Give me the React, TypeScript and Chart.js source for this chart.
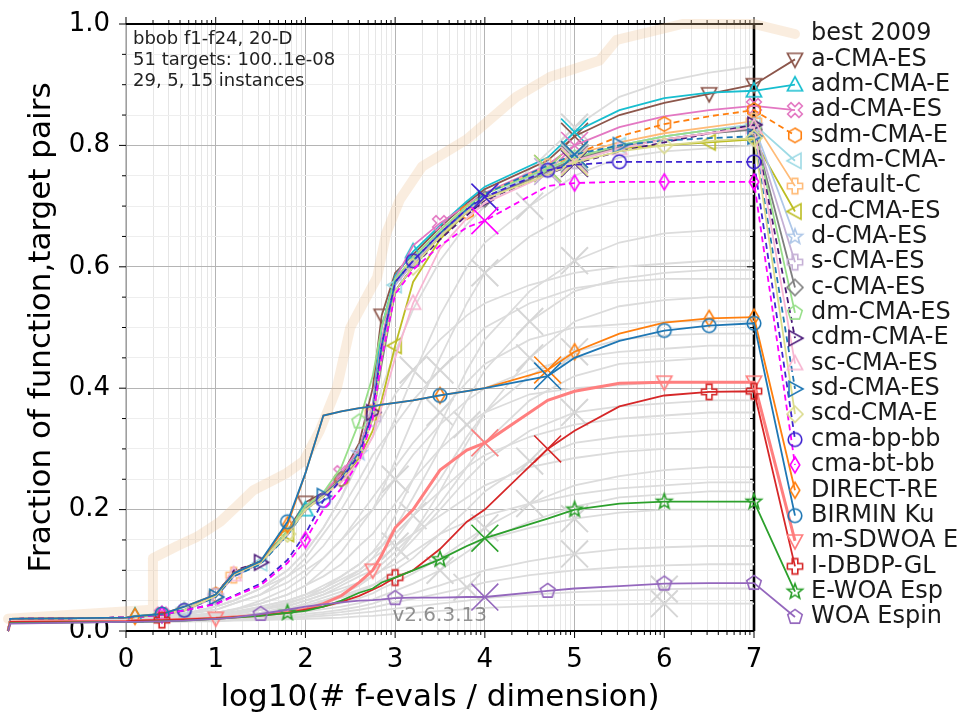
import React, { useEffect, useRef } from 'react';
import { Chart, registerables } from 'chart.js';

Chart.register(...registerables);

// ---- x grids (log10 of f-evals / dimension) ----
const X = [-1.315, -1.29, 0, 0.1, 0.4, 0.65, 1.0, 1.2, 1.5, 1.8, 2.0, 2.2, 2.4, 2.6, 2.75, 2.85, 3.0, 3.2, 3.5, 3.8, 4.0, 4.7, 5.0, 5.5, 6.0, 6.5, 7.0];
const GX = [-1.315, -1.29, 0, 0.4, 0.7, 1.0, 1.2, 1.5, 1.8, 2.0, 2.2, 2.4, 2.6, 2.75, 2.85, 3.0, 3.2, 3.5, 3.8, 4.0, 4.5, 5.0, 5.5, 6.0, 6.5, 7.0];

// ---- best 2009 ----
const BEST_X = [-1.315, 0.29, 0.3, 0.57, 0.79, 1.05, 1.23, 1.42, 1.79, 1.98, 2.16, 2.35, 2.5, 2.8, 2.9, 3.05, 3.3, 3.8, 4.35, 4.73, 5.28, 5.47, 6.2, 7.0];
const BEST_Y = [0.02, 0.035, 0.12, 0.14, 0.155, 0.18, 0.205, 0.232, 0.26, 0.28, 0.33, 0.4, 0.5, 0.583, 0.655, 0.71, 0.765, 0.81, 0.88, 0.913, 0.94, 0.974, 1.0, 1.0];

// ---- algorithms (values on X) ----
const aCMA = [0, 0.02, 0.022, 0.023, 0.027, 0.034, 0.06, 0.097, 0.115, 0.165, 0.212, 0.228, 0.255, 0.31, 0.4, 0.52, 0.59, 0.62, 0.665, 0.705, 0.728, 0.775, 0.815, 0.85, 0.87, 0.885, 0.9];
const admCMA = [0, 0.02, 0.022, 0.025, 0.028, 0.035, 0.058, 0.09, 0.112, 0.16, 0.2, 0.224, 0.25, 0.3, 0.37, 0.5, 0.585, 0.625, 0.668, 0.708, 0.732, 0.78, 0.822, 0.858, 0.878, 0.887, 0.89];
const adCMA = [0, 0.02, 0.022, 0.023, 0.027, 0.033, 0.056, 0.09, 0.112, 0.16, 0.205, 0.226, 0.26, 0.3, 0.37, 0.48, 0.58, 0.635, 0.672, 0.702, 0.722, 0.768, 0.8, 0.83, 0.848, 0.858, 0.865];
const sdmCMA = [0, 0.02, 0.022, 0.023, 0.027, 0.034, 0.06, 0.095, 0.113, 0.16, 0.205, 0.226, 0.25, 0.295, 0.36, 0.47, 0.575, 0.61, 0.655, 0.69, 0.712, 0.762, 0.785, 0.815, 0.835, 0.848, 0.858];
const scdmCMA = [0, 0.02, 0.022, 0.023, 0.027, 0.034, 0.058, 0.092, 0.112, 0.158, 0.2, 0.222, 0.25, 0.29, 0.355, 0.46, 0.57, 0.61, 0.655, 0.695, 0.715, 0.76, 0.78, 0.8, 0.815, 0.825, 0.835];
const defaultC = [0, 0.02, 0.022, 0.023, 0.027, 0.034, 0.058, 0.092, 0.113, 0.16, 0.205, 0.226, 0.25, 0.295, 0.36, 0.47, 0.575, 0.61, 0.655, 0.7, 0.72, 0.765, 0.785, 0.805, 0.82, 0.83, 0.84];
const cdCMA = [0, 0.02, 0.022, 0.023, 0.027, 0.034, 0.058, 0.092, 0.112, 0.16, 0.2, 0.222, 0.248, 0.285, 0.33, 0.38, 0.47, 0.575, 0.645, 0.69, 0.712, 0.757, 0.78, 0.795, 0.8, 0.805, 0.81];
const dCMA = [0, 0.02, 0.022, 0.023, 0.027, 0.034, 0.058, 0.093, 0.113, 0.16, 0.203, 0.225, 0.25, 0.293, 0.36, 0.47, 0.575, 0.61, 0.655, 0.695, 0.715, 0.76, 0.78, 0.8, 0.815, 0.825, 0.832];
const sCMA = [0, 0.02, 0.022, 0.023, 0.027, 0.034, 0.057, 0.09, 0.112, 0.158, 0.2, 0.222, 0.248, 0.29, 0.35, 0.46, 0.57, 0.605, 0.65, 0.69, 0.712, 0.757, 0.775, 0.795, 0.81, 0.82, 0.828];
const cCMA = [0, 0.02, 0.022, 0.023, 0.027, 0.034, 0.058, 0.093, 0.113, 0.16, 0.203, 0.225, 0.25, 0.293, 0.35, 0.44, 0.56, 0.6, 0.65, 0.69, 0.712, 0.757, 0.777, 0.797, 0.81, 0.82, 0.826];
const dmCMA = [0, 0.02, 0.022, 0.023, 0.027, 0.034, 0.058, 0.093, 0.113, 0.165, 0.205, 0.228, 0.27, 0.345, 0.42, 0.5, 0.58, 0.615, 0.66, 0.7, 0.72, 0.762, 0.78, 0.8, 0.815, 0.825, 0.83];
const cdmCMA = [0, 0.02, 0.022, 0.023, 0.027, 0.034, 0.058, 0.1, 0.113, 0.16, 0.2, 0.222, 0.248, 0.29, 0.36, 0.45, 0.56, 0.6, 0.645, 0.685, 0.71, 0.752, 0.77, 0.79, 0.805, 0.82, 0.834];
const scCMA = [0, 0.02, 0.022, 0.023, 0.027, 0.034, 0.058, 0.093, 0.113, 0.16, 0.2, 0.222, 0.245, 0.28, 0.32, 0.37, 0.45, 0.54, 0.63, 0.68, 0.705, 0.752, 0.775, 0.795, 0.81, 0.82, 0.83];
const sdCMA = [0, 0.02, 0.022, 0.023, 0.027, 0.034, 0.056, 0.09, 0.11, 0.158, 0.2, 0.222, 0.25, 0.295, 0.36, 0.47, 0.575, 0.61, 0.655, 0.695, 0.72, 0.767, 0.785, 0.8, 0.808, 0.812, 0.815];
const scdCMA = [0, 0.02, 0.022, 0.023, 0.027, 0.034, 0.058, 0.093, 0.113, 0.16, 0.2, 0.222, 0.248, 0.29, 0.35, 0.45, 0.56, 0.6, 0.65, 0.69, 0.712, 0.752, 0.772, 0.79, 0.8, 0.807, 0.812];
const cmaBp = [0, 0.02, 0.022, 0.023, 0.027, 0.034, 0.045, 0.058, 0.078, 0.117, 0.16, 0.215, 0.25, 0.29, 0.36, 0.47, 0.575, 0.61, 0.655, 0.695, 0.715, 0.759, 0.768, 0.773, 0.773, 0.773, 0.773];
const cmaBt = [0, 0.02, 0.022, 0.023, 0.027, 0.034, 0.044, 0.057, 0.075, 0.112, 0.15, 0.2, 0.235, 0.28, 0.35, 0.45, 0.555, 0.595, 0.635, 0.665, 0.676, 0.733, 0.738, 0.74, 0.74, 0.74, 0.74];
const directRe = [0, 0.02, 0.022, 0.024, 0.028, 0.04, 0.06, 0.095, 0.115, 0.175, 0.26, 0.355, 0.362, 0.367, 0.37, 0.373, 0.376, 0.38, 0.388, 0.395, 0.4, 0.43, 0.46, 0.49, 0.508, 0.515, 0.517];
const birmin = [0, 0.02, 0.022, 0.024, 0.028, 0.04, 0.06, 0.095, 0.115, 0.18, 0.26, 0.355, 0.362, 0.367, 0.37, 0.373, 0.376, 0.38, 0.388, 0.395, 0.4, 0.42, 0.45, 0.478, 0.495, 0.503, 0.507];
const mSdwoa = [0, 0.015, 0.016, 0.017, 0.018, 0.019, 0.021, 0.023, 0.026, 0.031, 0.036, 0.045, 0.058, 0.08, 0.1, 0.125, 0.17, 0.2, 0.265, 0.298, 0.31, 0.38, 0.395, 0.408, 0.41, 0.41, 0.41];
const iDbdp = [0, 0.015, 0.016, 0.017, 0.018, 0.019, 0.021, 0.023, 0.026, 0.03, 0.035, 0.04, 0.048, 0.058, 0.068, 0.075, 0.088, 0.1, 0.135, 0.18, 0.2, 0.3, 0.33, 0.37, 0.388, 0.394, 0.395];
const eWoa = [0, 0.013, 0.015, 0.015, 0.016, 0.017, 0.02, 0.022, 0.025, 0.03, 0.033, 0.04, 0.05, 0.063, 0.07, 0.08, 0.088, 0.1, 0.118, 0.14, 0.153, 0.185, 0.2, 0.21, 0.213, 0.213, 0.213];
const woa = [0, 0.012, 0.015, 0.015, 0.016, 0.017, 0.02, 0.022, 0.028, 0.035, 0.04, 0.044, 0.047, 0.05, 0.051, 0.052, 0.054, 0.055, 0.055, 0.056, 0.056, 0.066, 0.07, 0.074, 0.078, 0.079, 0.079];

// ---- background (other algorithms, grey), values on GX ----
const G01 = [0, 0.02, 0.022, 0.025, 0.03, 0.04, 0.05, 0.07, 0.1, 0.13, 0.17, 0.22, 0.29, 0.35, 0.4, 0.46, 0.53, 0.61, 0.67, 0.7, 0.76, 0.83, 0.88, 0.905, 0.92, 0.93];
const G02 = [0, 0.02, 0.022, 0.025, 0.03, 0.04, 0.05, 0.07, 0.09, 0.11, 0.14, 0.18, 0.23, 0.27, 0.3, 0.35, 0.42, 0.52, 0.6, 0.64, 0.7, 0.75, 0.78, 0.79, 0.795, 0.8];
const G03 = [0, 0.02, 0.02, 0.022, 0.025, 0.03, 0.035, 0.045, 0.06, 0.075, 0.1, 0.13, 0.17, 0.2, 0.23, 0.28, 0.35, 0.45, 0.54, 0.59, 0.65, 0.69, 0.71, 0.715, 0.72, 0.72];
const G04 = [0, 0.015, 0.018, 0.02, 0.022, 0.025, 0.03, 0.04, 0.05, 0.06, 0.07, 0.09, 0.11, 0.13, 0.15, 0.19, 0.25, 0.34, 0.43, 0.48, 0.56, 0.61, 0.64, 0.655, 0.66, 0.66];
const G05 = [0, 0.02, 0.022, 0.025, 0.03, 0.04, 0.05, 0.07, 0.1, 0.13, 0.17, 0.22, 0.28, 0.32, 0.35, 0.39, 0.43, 0.48, 0.52, 0.54, 0.57, 0.59, 0.6, 0.605, 0.61, 0.61];
const G06 = [0, 0.015, 0.018, 0.02, 0.022, 0.025, 0.028, 0.035, 0.045, 0.055, 0.065, 0.08, 0.1, 0.12, 0.14, 0.17, 0.22, 0.3, 0.38, 0.43, 0.51, 0.56, 0.58, 0.59, 0.595, 0.595];
const G07 = [0, 0.02, 0.022, 0.025, 0.03, 0.035, 0.045, 0.06, 0.09, 0.12, 0.16, 0.2, 0.25, 0.29, 0.31, 0.34, 0.38, 0.43, 0.47, 0.5, 0.54, 0.565, 0.575, 0.58, 0.58, 0.58];
const G08 = [0, 0.015, 0.016, 0.018, 0.02, 0.022, 0.025, 0.03, 0.035, 0.04, 0.05, 0.06, 0.075, 0.09, 0.1, 0.12, 0.16, 0.23, 0.31, 0.36, 0.45, 0.51, 0.535, 0.545, 0.55, 0.55];
const G09 = [0, 0.02, 0.02, 0.022, 0.025, 0.03, 0.035, 0.05, 0.07, 0.09, 0.12, 0.15, 0.19, 0.22, 0.24, 0.27, 0.31, 0.36, 0.41, 0.44, 0.48, 0.5, 0.505, 0.51, 0.51, 0.51];
const G10 = [0, 0.015, 0.016, 0.018, 0.02, 0.024, 0.028, 0.035, 0.045, 0.055, 0.07, 0.085, 0.1, 0.12, 0.13, 0.15, 0.19, 0.25, 0.32, 0.36, 0.42, 0.46, 0.48, 0.487, 0.49, 0.49];
const G11 = [0, 0.02, 0.022, 0.024, 0.028, 0.035, 0.045, 0.06, 0.08, 0.1, 0.12, 0.15, 0.18, 0.2, 0.22, 0.25, 0.29, 0.34, 0.38, 0.4, 0.43, 0.45, 0.46, 0.465, 0.47, 0.47];
const G12 = [0, 0.015, 0.016, 0.018, 0.02, 0.022, 0.025, 0.03, 0.04, 0.05, 0.06, 0.075, 0.09, 0.1, 0.11, 0.13, 0.16, 0.21, 0.27, 0.31, 0.38, 0.42, 0.44, 0.445, 0.45, 0.45];
const G13 = [0, 0.02, 0.02, 0.022, 0.025, 0.03, 0.036, 0.045, 0.06, 0.075, 0.09, 0.11, 0.14, 0.16, 0.18, 0.21, 0.25, 0.3, 0.34, 0.36, 0.39, 0.4, 0.405, 0.41, 0.41, 0.41];
const G14 = [0, 0.015, 0.016, 0.018, 0.02, 0.022, 0.025, 0.03, 0.037, 0.045, 0.055, 0.065, 0.08, 0.09, 0.1, 0.12, 0.15, 0.2, 0.25, 0.28, 0.33, 0.36, 0.37, 0.375, 0.38, 0.38];
const G15 = [0, 0.02, 0.02, 0.022, 0.025, 0.028, 0.032, 0.04, 0.05, 0.06, 0.075, 0.09, 0.11, 0.13, 0.14, 0.16, 0.19, 0.23, 0.27, 0.29, 0.32, 0.34, 0.35, 0.355, 0.36, 0.36];
const G16 = [0, 0.015, 0.016, 0.018, 0.02, 0.022, 0.024, 0.028, 0.033, 0.04, 0.047, 0.055, 0.065, 0.075, 0.085, 0.1, 0.12, 0.16, 0.2, 0.23, 0.28, 0.31, 0.32, 0.325, 0.33, 0.33];
const G17 = [0, 0.02, 0.02, 0.022, 0.024, 0.027, 0.03, 0.037, 0.047, 0.055, 0.065, 0.08, 0.095, 0.11, 0.12, 0.14, 0.16, 0.19, 0.22, 0.24, 0.27, 0.285, 0.295, 0.3, 0.3, 0.3];
const G18 = [0, 0.015, 0.016, 0.017, 0.019, 0.021, 0.023, 0.026, 0.03, 0.034, 0.04, 0.046, 0.054, 0.062, 0.07, 0.08, 0.095, 0.12, 0.15, 0.17, 0.21, 0.24, 0.255, 0.265, 0.27, 0.27];
const G19 = [0, 0.02, 0.02, 0.021, 0.023, 0.026, 0.03, 0.035, 0.042, 0.05, 0.06, 0.07, 0.08, 0.09, 0.1, 0.11, 0.13, 0.16, 0.18, 0.19, 0.21, 0.225, 0.235, 0.24, 0.245, 0.245];
const G20 = [0, 0.015, 0.015, 0.016, 0.018, 0.02, 0.022, 0.025, 0.028, 0.032, 0.036, 0.04, 0.046, 0.052, 0.058, 0.066, 0.078, 0.1, 0.13, 0.15, 0.18, 0.205, 0.22, 0.225, 0.23, 0.23];
const G21 = [0, 0.015, 0.016, 0.018, 0.02, 0.022, 0.025, 0.03, 0.036, 0.042, 0.05, 0.058, 0.068, 0.076, 0.082, 0.09, 0.1, 0.12, 0.14, 0.15, 0.17, 0.185, 0.195, 0.2, 0.2, 0.2];
const G22 = [0, 0.015, 0.015, 0.016, 0.017, 0.018, 0.02, 0.022, 0.025, 0.028, 0.031, 0.035, 0.04, 0.045, 0.05, 0.055, 0.062, 0.075, 0.09, 0.1, 0.115, 0.127, 0.135, 0.138, 0.14, 0.14];
const G23 = [0, 0.015, 0.015, 0.016, 0.017, 0.018, 0.019, 0.021, 0.023, 0.025, 0.028, 0.031, 0.035, 0.039, 0.042, 0.047, 0.053, 0.062, 0.072, 0.08, 0.092, 0.1, 0.105, 0.108, 0.11, 0.11];
const G24 = [0, 0.015, 0.015, 0.015, 0.016, 0.017, 0.018, 0.019, 0.021, 0.023, 0.025, 0.027, 0.03, 0.032, 0.034, 0.037, 0.04, 0.045, 0.05, 0.054, 0.06, 0.064, 0.067, 0.069, 0.07, 0.07];
const G25 = [0, 0.015, 0.015, 0.015, 0.016, 0.016, 0.017, 0.018, 0.019, 0.02, 0.021, 0.022, 0.024, 0.025, 0.026, 0.028, 0.03, 0.033, 0.036, 0.038, 0.041, 0.043, 0.044, 0.045, 0.045, 0.045];
const GRAY = [G01, G02, G03, G04, G05, G06, G07, G08, G09, G10, G11, G12, G13, G14, G15, G16, G17, G18, G19, G20, G21, G22, G23, G24, G25];
const GRAY_MARK = [21, 20, 19, 21, 16, 20, 17, 20, 17, 21, 15, 19, 18, 21, 16, 20, 15, 19, 20, 17, 21, 21, 18, 23, 23];

const TEXT_LINES = ['bbob f1-f24, 20-D', '51 targets: 100..1e-08', '29, 5, 15 instances'];
const VERSION = 'v2.6.3.13';

// style table
const ALGOS = [
  { label: 'a-CMA-ES', data: aCMA, color: '#8c564b', marker: 'v', marks: [10, 15, 25, 26], cross: 22 },
  { label: 'adm-CMA-E', data: admCMA, color: '#17becf', marker: '^', marks: [3, 10, 17, 26], cross: 22 },
  { label: 'ad-CMA-ES', data: adCMA, color: '#e377c2', marker: 'X', marks: [4, 12, 18, 26], cross: 22 },
  { label: 'sdm-CMA-E', data: sdmCMA, color: '#ff7f0e', marker: 'h', dash: true, marks: [6, 12, 19, 24, 26], cross: 21 },
  { label: 'scdm-CMA-', data: scdmCMA, color: '#9edae5', marker: '<', marks: [8, 16, 23, 26], cross: 22 },
  { label: 'default-C', data: defaultC, color: '#ffbb78', marker: 'P', marks: [7, 14, 21, 26], cross: 22 },
  { label: 'cd-CMA-ES', data: cdCMA, color: '#bcbd22', marker: '<', marks: [9, 16, 25, 26], cross: 22 },
  { label: 'd-CMA-ES', data: dCMA, color: '#aec7e8', marker: '*', marks: [5, 13, 21, 26], cross: 22 },
  { label: 's-CMA-ES', data: sCMA, color: '#c5b0d5', marker: 'P', marks: [6, 14, 22, 26], cross: 21 },
  { label: 'c-CMA-ES', data: cCMA, color: '#7f7f7f', marker: 'D', marks: [4, 12, 20, 26], cross: 22 },
  { label: 'dm-CMA-ES', data: dmCMA, color: '#98df8a', marker: 'p', marks: [5, 13, 22, 26], cross: 21 },
  { label: 'cdm-CMA-E', data: cdmCMA, color: '#4b1a7a', marker: '>', dash: true, marks: [8, 14, 20, 26], cross: 22 },
  { label: 'sc-CMA-ES', data: scCMA, color: '#f7b6d2', marker: '^', marks: [7, 17, 23, 26], cross: 22 },
  { label: 'sd-CMA-ES', data: sdCMA, color: '#1f77b4', marker: '>', dash: true, marks: [6, 11, 23, 26], cross: 22 },
  { label: 'scd-CMA-E', data: scdCMA, color: '#dbdb8d', marker: 'D', marks: [9, 17, 24, 26], cross: 22 },
  { label: 'cma-bp-bb', data: cmaBp, color: '#3f24d0', marker: 'o', dash: true, marks: [5, 11, 17, 21, 23, 26], cross: 20 },
  { label: 'cma-bt-bb', data: cmaBt, color: '#ff00ff', marker: 'd', dash: true, marks: [4, 10, 22, 24, 26], cross: 20 },
  { label: 'DIRECT-RE', data: directRe, color: '#ff7f0e', marker: 'd', marks: [3, 9, 18, 22, 25, 26], cross: 21 },
  { label: 'BIRMIN Ku', data: birmin, color: '#1f77b4', marker: 'o', marks: [4, 9, 18, 24, 25, 26], cross: 21 },
  { label: 'm-SDWOA E', data: mSdwoa, color: '#ff7f7f', marker: 'v', width: 3, marks: [6, 14, 24, 26], cross: 20 },
  { label: 'I-DBDP-GL', data: iDbdp, color: '#d62728', marker: 'P', marks: [4, 16, 25, 26], cross: 21 },
  { label: 'E-WOA Esp', data: eWoa, color: '#2ca02c', marker: '*', marks: [9, 18, 22, 24, 26], cross: 20 },
  { label: 'WOA Espin', data: woa, color: '#9467bd', marker: 'p', marks: [8, 16, 21, 24, 26], cross: 20 },
];

// layout constants for the right-hand labels
const LEG_X = 7.457;
const LABEL_TOP = 0.9835;
const LABEL_STEP = 0.04176;
const labelY = (i: number) => LABEL_TOP - i * LABEL_STEP;

const FONT = '"DejaVu Sans", sans-serif';

const XTICKS: number[] = [];
for (let n = 0; n < 7; n++) for (let k = 1; k <= 9; k++) XTICKS.push(n + Math.log10(k));
XTICKS.push(7);
const YTICKS: number[] = [];
for (let i = 0; i <= 20; i++) YTICKS.push(i / 20);
const isMajorX = (v: number) => Math.abs(v - Math.round(v)) < 1e-9;
const isMajorY = (v: number) => Math.abs(v * 5 - Math.round(v * 5)) < 1e-9;

function makeMarker(shape: string, color: string, r = 8): HTMLCanvasElement {
  const size = Math.ceil(r * 2 + 6);
  const c = document.createElement('canvas');
  c.width = size;
  c.height = size;
  const g = c.getContext('2d')!;
  g.translate(size / 2, size / 2);
  g.strokeStyle = color;
  g.lineWidth = 1.6;
  g.beginPath();
  const poly = (pts: number[][]) => {
    pts.forEach(([x, y], i) => (i ? g.lineTo(x, y) : g.moveTo(x, y)));
    g.closePath();
  };
  const ngon = (n: number, rad: number) => {
    const pts: number[][] = [];
    for (let k = 0; k < n; k++) {
      const a = -Math.PI / 2 + (k * 2 * Math.PI) / n;
      pts.push([rad * Math.cos(a), rad * Math.sin(a)]);
    }
    poly(pts);
  };
  const plus = (w: number, L: number, rot: number) => {
    const base = [[-w, -L], [w, -L], [w, -w], [L, -w], [L, w], [w, w], [w, L], [-w, L], [-w, w], [-L, w], [-L, -w], [-w, -w]];
    poly(base.map(([x, y]) => [x * Math.cos(rot) - y * Math.sin(rot), x * Math.sin(rot) + y * Math.cos(rot)]));
  };
  switch (shape) {
    case '^': poly([[0, -r], [r * 0.95, r * 0.75], [-r * 0.95, r * 0.75]]); break;
    case 'v': poly([[0, r], [r * 0.95, -r * 0.75], [-r * 0.95, -r * 0.75]]); break;
    case '<': poly([[-r, 0], [r * 0.75, -r * 0.95], [r * 0.75, r * 0.95]]); break;
    case '>': poly([[r, 0], [-r * 0.75, -r * 0.95], [-r * 0.75, r * 0.95]]); break;
    case 'o': g.arc(0, 0, r * 0.85, 0, Math.PI * 2); break;
    case 'D': poly([[0, -r], [r, 0], [0, r], [-r, 0]]); break;
    case 'd': poly([[0, -r], [r * 0.6, 0], [0, r], [-r * 0.6, 0]]); break;
    case 'h': ngon(6, r * 0.9); break;
    case 'p': ngon(5, r * 0.95); break;
    case '*': {
      const pts: number[][] = [];
      for (let k = 0; k < 10; k++) {
        const a = -Math.PI / 2 + (k * Math.PI) / 5;
        const rad = k % 2 === 0 ? r : r * 0.42;
        pts.push([rad * Math.cos(a), rad * Math.sin(a)]);
      }
      poly(pts);
      break;
    }
    case 'P': plus(r * 0.35, r * 0.95, 0); break;
    case 'X': plus(r * 0.3, r * 1.0, Math.PI / 4); break;
  }
  g.stroke();
  return c;
}

export default function App() {
  const ref = useRef<HTMLCanvasElement>(null);
  useEffect(() => {
    const canvas = ref.current!;
    const imgs = ALGOS.map((a) => makeMarker(a.marker, a.color));
    const datasets: any[] = [];
    datasets.push({
      label: 'best 2009',
      data: [...BEST_X.map((x, i) => ({ x, y: BEST_Y[i] })), { x: LEG_X, y: labelY(0) }],
      borderColor: 'rgba(240,196,150,0.3)',
      borderWidth: 10,
      borderJoinStyle: 'round',
      borderCapStyle: 'round',
      pointRadius: 0,
      clip: false,
      order: 100,
    });
    GRAY.forEach((gv, k) => {
      datasets.push({
        label: 'g' + k,
        data: GX.map((x, i) => ({ x, y: gv[i] })),
        borderColor: '#dcdcdc',
        borderWidth: 1.8,
        pointStyle: 'crossRot',
        pointRadius: (c: any) => (c.dataIndex === GRAY_MARK[k] ? 19 : 0),
        pointBorderColor: '#d6d6d6',
        pointBorderWidth: 2,
        clip: false,
        order: 50,
      });
    });
    ALGOS.forEach((a, k) => {
      const img = imgs[k];
      datasets.push({
        label: a.label,
        data: [...X.map((x, i) => ({ x, y: a.data[i] })), { x: LEG_X, y: labelY(k + 1) }],
        borderColor: a.color,
        borderWidth: a.width || 1.8,
        borderDash: a.dash ? [6, 4] : [],
        pointStyle: (c: any) => (c.dataIndex === a.cross ? 'crossRot' : img),
        pointRadius: (c: any) => (c.dataIndex === a.cross ? 19 : a.marks.includes(c.dataIndex) ? 8 : 0),
        pointBorderColor: a.color,
        pointBorderWidth: 1.6,
        clip: false,
        order: 30 - k,
      });
    });

    const framePlugin = {
      id: 'frame',
      beforeDatasetsDraw(chart: any) {
        const { ctx, chartArea: a, scales } = chart;
        const xs = scales.x;
        const ys = scales.y;
        const line = (x1: number, y1: number, x2: number, y2: number) => {
          ctx.beginPath();
          ctx.moveTo(x1, y1);
          ctx.lineTo(x2, y2);
          ctx.stroke();
        };
        ctx.save();
        ctx.strokeStyle = '#8a8a8a';
        ctx.lineWidth = 1;
        line(a.left, a.top, a.left, a.bottom);
        ctx.strokeStyle = '#000';
        ctx.lineWidth = 1.8;
        line(a.left, a.bottom, a.right, a.bottom);
        line(a.left, a.top, xs.getPixelForValue(7.1), a.top);
        ctx.lineWidth = 1;
        XTICKS.forEach((v) => {
          const p = xs.getPixelForValue(v);
          const L = isMajorX(v) ? 7 : 4;
          line(p, a.bottom, p, a.bottom + L);
          line(p, a.top, p, a.top - L);
        });
        YTICKS.forEach((v) => {
          const p = ys.getPixelForValue(v);
          const L = isMajorY(v) ? 7 : 4;
          line(a.left - L, p, a.left, p);
          line(a.right - L, p, a.right, p);
        });
        ctx.lineWidth = 2.6;
        const p7 = xs.getPixelForValue(7);
        line(p7, a.top, p7, a.bottom);
        ctx.restore();
      },
      afterDatasetsDraw(chart: any) {
        const { ctx, chartArea: a, scales } = chart;
        const xs = scales.x;
        const ys = scales.y;
        ctx.save();
        ctx.fillStyle = '#222';
        ctx.font = '18px ' + FONT;
        ctx.textAlign = 'left';
        ctx.textBaseline = 'alphabetic';
        TEXT_LINES.forEach((t, i) => ctx.fillText(t, a.left + 7, a.top + 20 + i * 21));
        ctx.fillStyle = 'rgba(110,110,110,0.75)';
        ctx.font = '20px ' + FONT;
        ctx.fillText(VERSION, xs.getPixelForValue(2.97), a.bottom - 10);
        // right labels
        const lx = xs.getPixelForValue(LEG_X);
        ctx.font = '24px ' + FONT;
        ctx.fillStyle = '#1a1a1a';
        ctx.textBaseline = 'middle';
        ctx.fillText('best 2009', lx + 16, ys.getPixelForValue(labelY(0)));
        ALGOS.forEach((al, k) => {
          const py = ys.getPixelForValue(labelY(k + 1));
          const img = imgs[k];
          ctx.drawImage(img, lx - img.width / 2, py - img.height / 2);
          ctx.fillText(al.label, lx + 16, py);
        });
        ctx.restore();
      },
    };

    const chart = new Chart(canvas, {
      type: 'line',
      data: { datasets },
      plugins: [framePlugin],
      options: {
        responsive: false,
        animation: false,
        devicePixelRatio: 1,
        events: [],
        layout: { padding: { left: 0, right: 206, top: 24, bottom: 0 } },
        plugins: { legend: { display: false }, tooltip: { enabled: false } },
        scales: {
          x: {
            type: 'linear',
            bounds: 'data',
            afterDataLimits: (s: any) => { s.min = 0; s.max = 7; },
            afterBuildTicks: (s: any) => { s.ticks = XTICKS.map((v) => ({ value: v })); },
            afterFit: (s: any) => { s.height = 86; s.paddingLeft = 0; s.paddingRight = 0; },
            ticks: {
              autoSkip: false,
              maxRotation: 0,
              minRotation: 0,
              padding: 14,
              color: '#000',
              font: { family: FONT, size: 26 },
              callback: (v: any) => (isMajorX(Number(v)) ? String(Math.round(Number(v))) : ''),
            },
            grid: {
              drawTicks: false,
              color: (c: any) => (c.tick && isMajorX(c.tick.value) ? '#b4b4b4' : '#e6e6e6'),
              lineWidth: 1,
            },
            border: { display: false },
            title: {
              display: true,
              text: 'log10(# f-evals / dimension)',
              color: '#000',
              font: { family: FONT, size: 31 },
              padding: { top: 0, bottom: 0 },
            },
          },
          y: {
            type: 'linear',
            min: 0,
            max: 1,
            bounds: 'data',
            afterBuildTicks: (s: any) => { s.ticks = YTICKS.map((v) => ({ value: v })); },
            afterFit: (s: any) => { s.width = 126; s.paddingTop = 0; s.paddingBottom = 0; },
            ticks: {
              autoSkip: false,
              padding: 16,
              color: '#000',
              font: { family: FONT, size: 26 },
              callback: (v: any) => (isMajorY(Number(v)) ? Number(v).toFixed(1) : ''),
            },
            grid: {
              drawTicks: false,
              color: (c: any) => (c.tick && isMajorY(c.tick.value) ? '#b4b4b4' : '#eeeeee'),
              lineWidth: 1,
            },
            border: { display: false },
            title: {
              display: true,
              text: 'Fraction of function,target pairs',
              color: '#000',
              font: { family: FONT, size: 31 },
              padding: { top: 23, bottom: 0 },
            },
          },
        },
      } as any,
    });
    return () => chart.destroy();
  }, []);
  return (
    <div style={{ position: 'absolute', left: 0, top: 0, width: 960, height: 717, background: '#fff' }}>
      <canvas ref={ref} width={960} height={717} style={{ width: 960, height: 717, display: 'block' }} />
    </div>
  );
}
